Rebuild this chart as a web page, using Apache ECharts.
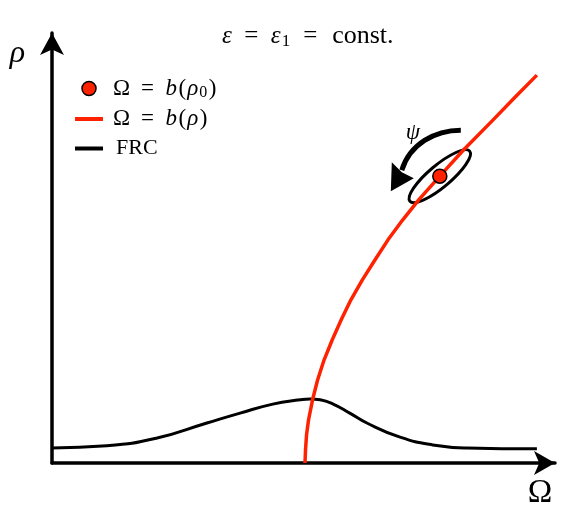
<!DOCTYPE html>
<html><head><meta charset="utf-8">
<script src="https://cdn.jsdelivr.net/npm/echarts@6/dist/echarts.min.js"></script>
<style>html,body{margin:0;padding:0;background:#fff}#c{width:584px;height:521px}</style>
</head><body><div id="c"></div>
<script>
// Backbone curve  Omega = b(rho)
const backboneOmega = [5.03, 5.04, 5.06, 5.10, 5.18, 5.28, 5.41, 5.57, 5.75, 5.94, 6.17, 6.42, 6.68, 6.97, 7.29, 7.71, 8.18, 8.77, 9.19, 9.64];
const backboneRho   = [0.00, 0.30, 0.65, 1.00, 1.47, 1.93, 2.40, 2.86, 3.33, 3.79, 4.26, 4.72, 5.19, 5.65, 6.12, 6.67, 7.28, 7.98, 8.49, 9.02];
// Frequency response curve (FRC)
const frcOmega = [0.00, 1.09, 2.09, 3.08, 3.74, 4.39, 4.93, 5.13, 5.33, 5.59, 5.92, 6.26, 6.92, 7.57, 8.25, 9.64];
const frcRho   = [0.35, 0.40, 0.58, 0.93, 1.16, 1.37, 1.47, 1.49, 1.47, 1.37, 1.16, 0.93, 0.60, 0.42, 0.35, 0.33];
// Point Omega = b(rho0)
const pointOmega = [7.71];
const pointRho   = [6.67];
const seriesNames = ['Ω = b(ρ0)', 'Ω = b(ρ)', 'FRC'];
const legendRich = {
  'Ω = b(ρ0)': '{r|Ω}{e|=}{i|b}{p|(}{i|ρ}{s|0}{p|)}',
  'Ω = b(ρ)': '{r|Ω}{e|=}{i|b}{p|(}{i|ρ}{p|)}',
  'FRC': '{f|FRC}'
};

const RED = '#ff2200';
const FONT = 'Liberation Serif';
const chart = echarts.init(document.getElementById('c'), null, {renderer: 'canvas'});
const zip = (a, b) => a.map((v, i) => [v, b[i]]);
const lineIcon = 'path://M0,0M28,14M0,5L28,5L28,9L0,9Z';

chart.setOption({
  animation: false,
  backgroundColor: '#fff',
  title: {
    text: '{i|ε}{e1|=}{i|ε}{s|1}{e2|=}{c|const.}',
    left: 222, top: 22, padding: 0,
    textStyle: {
      rich: {
        i: {fontFamily: FONT, fontStyle: 'italic', fontSize: 25, color: '#000', lineHeight: 28},
        s: {fontFamily: FONT, fontSize: 17, color: '#000', verticalAlign: 'bottom', padding: [0, 0, 0, 1]},
        c: {fontFamily: FONT, fontSize: 26, color: '#000', lineHeight: 28, padding: [0, 0, 0, 2]},
        e1: {fontFamily: FONT, fontSize: 25, color: '#000', lineHeight: 28, width: 39, align: 'center'},
        e2: {fontFamily: FONT, fontSize: 25, color: '#000', lineHeight: 28, width: 40, align: 'center'}
      },
      fontFamily: FONT, fontSize: 25, fontWeight: 'normal', color: '#000', lineHeight: 28
    }
  },
  grid: {left: 52, right: 29, top: 33, bottom: 58, containLabel: false},
  xAxis: {
    type: 'value', min: 0, max: 10,
    name: 'Ω', nameLocation: 'end', nameGap: -15,
    nameTextStyle: {fontFamily: FONT, fontSize: 33, color: '#000', align: 'center', verticalAlign: 'top', padding: [14, 0, 0, 0]},
    axisLine: {show: true, symbol: ['none', 'arrow'], symbolSize: [18, 21], lineStyle: {color: '#000', width: 3.5}},
    axisTick: {show: false}, axisLabel: {show: false}, splitLine: {show: false}
  },
  yAxis: {
    type: 'value', min: 0, max: 10,
    name: 'ρ', nameLocation: 'end', nameGap: -21,
    nameTextStyle: {fontFamily: FONT, fontStyle: 'italic', fontSize: 32, color: '#000', align: 'right', verticalAlign: 'middle', padding: [0, 27, 0, 0]},
    axisLine: {show: true, symbol: ['none', 'arrow'], symbolSize: [18, 22], lineStyle: {color: '#000', width: 3.5}},
    axisTick: {show: false}, axisLabel: {show: false}, splitLine: {show: false}
  },
  legend: {
    left: 75, top: 77, orient: 'vertical', itemGap: 7, padding: 0,
    itemWidth: 28, itemHeight: 14,
    data: [
      {name: seriesNames[0], icon: 'circle', itemStyle: {color: RED, borderColor: '#000', borderWidth: 1.5}},
      {name: seriesNames[1], icon: lineIcon, itemStyle: {color: RED, borderWidth: 0}},
      {name: seriesNames[2], icon: lineIcon, itemStyle: {color: '#000', borderWidth: 0}}
    ],
    formatter: name => legendRich[name],
    textStyle: {
      rich: {
        r: {fontFamily: FONT, fontSize: 23, color: '#000', lineHeight: 24},
        i: {fontFamily: FONT, fontStyle: 'italic', fontSize: 23, color: '#000', lineHeight: 24, padding: [0, 1, 0, 0.5]},
        p: {fontFamily: FONT, fontSize: 23, color: '#000', lineHeight: 24, padding: [0, 0.5, 0, 0.5]},
        s: {fontFamily: FONT, fontSize: 16, color: '#000', verticalAlign: 'bottom', padding: [0, 1, 0, 0]},
        e: {fontFamily: FONT, fontSize: 23, color: '#000', lineHeight: 24, width: 35, align: 'center'},
        f: {fontFamily: FONT, fontSize: 22, color: '#000', lineHeight: 24, padding: [0, 0, 0, 3]}
      },
      padding: [0, 0, 0, 5]
    }
  },
  series: [
    {
      name: seriesNames[0], type: 'scatter', data: zip(pointOmega, pointRho),
      symbol: 'circle', symbolSize: 14, z: 5,
      itemStyle: {color: RED, borderColor: '#000', borderWidth: 1.5, opacity: 1}
    },
    {
      name: seriesNames[1], type: 'line', data: zip(backboneOmega, backboneRho),
      symbol: 'none', smooth: false, z: 3,
      lineStyle: {color: RED, width: 3.5, join: 'round'}, itemStyle: {color: RED}
    },
    {
      name: seriesNames[2], type: 'line', data: zip(frcOmega, frcRho),
      symbol: 'none', smooth: 0.5, z: 2,
      lineStyle: {color: '#000', width: 3}, itemStyle: {color: '#000'}
    }
  ]
});

const p = chart.convertToPixel({seriesIndex: 0}, [pointOmega[0], pointRho[0]]);
chart.setOption({
  graphic: [
    {
      type: 'ellipse', x: p[0], y: p[1], rotation: 40 * Math.PI / 180, z: 1,
      shape: {cx: 0, cy: 0, rx: 39, ry: 11},
      style: {fill: 'none', stroke: '#000', lineWidth: 3}
    },
    {
      type: 'bezierCurve', x: p[0], y: p[1], z: 10,
      shape: {x1: 21, y1: -46, cpx1: -5, cpy1: -46, cpx2: -30, cpy2: -32, x2: -38, y2: -6},
      style: {fill: 'none', stroke: '#000', lineWidth: 5}
    },
    {
      type: 'polygon', x: p[0], y: p[1], z: 10,
      shape: {points: [[-48, -14], [-38, -4], [-26, 2], [-49, 15]]},
      style: {fill: '#000', stroke: 'none'}
    },
    {
      type: 'text', x: p[0] - 27, y: p[1] - 43, z: 10,
      style: {text: 'ψ', font: 'italic 23px "Liberation Serif"', fill: '#000', textAlign: 'center', textVerticalAlign: 'middle'}
    }
  ]
});
</script>
</body></html>
